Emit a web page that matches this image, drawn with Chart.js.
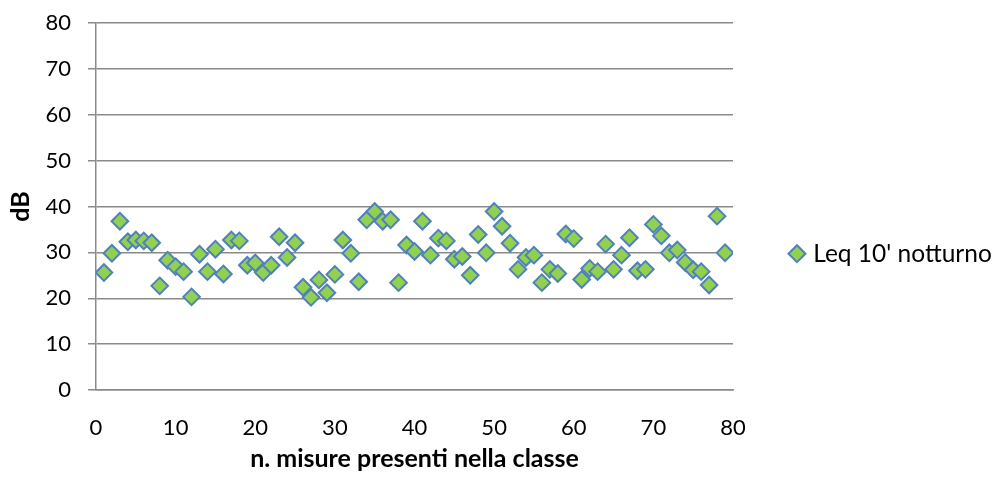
<!DOCTYPE html>
<html>
<head>
<meta charset="utf-8">
<script src="https://cdn.jsdelivr.net/npm/chart.js@4/dist/chart.umd.min.js"></script>
<style>
  html, body { margin: 0; padding: 0; background: #ffffff; }
  #wrap { width: 1003px; height: 482px; position: relative; }
</style>
</head>
<body>
<div id="wrap"><canvas id="c"></canvas></div>
<script>
const seriesName = "Leq 10' notturno";
const xTitle = "n. misure presenti nella classe";
const yTitle = "dB";
const xValues = [1,2,3,4,5,6,7,8,9,10,11,12,13,14,15,16,17,18,19,20,
  21,22,23,24,25,26,27,28,29,30,31,32,33,34,35,36,37,38,39,40,
  41,42,43,44,45,46,47,48,49,50,51,52,53,54,55,56,57,58,59,60,
  61,62,63,64,65,66,67,68,69,70,71,72,73,74,75,76,77,78,79];
const yValues = [25.6,29.8,36.8,32.3,32.7,32.5,32.1,22.7,28.3,26.9,
  25.8,20.3,29.6,25.8,30.7,25.3,32.7,32.5,27.2,27.7,
  25.6,27.2,33.4,28.9,32.1,22.4,20.2,24.0,21.2,25.2,
  32.7,29.8,23.6,37.1,38.9,36.8,37.1,23.4,31.6,30.2,
  36.8,29.4,33.1,32.5,28.5,29.1,25.0,33.9,29.9,38.9,
  35.7,32.0,26.3,28.9,29.4,23.4,26.3,25.4,34.0,33.0,
  24.1,26.5,25.8,31.8,26.3,29.4,33.2,26.0,26.3,36.1,
  33.6,29.9,30.5,27.8,26.2,25.8,22.9,37.9,29.9];
const axisMin = 0, axisMax = 80, axisStep = 10;

const points = xValues.map((x, i) => ({ x: x, y: yValues[i] }));

const FONT = 'Lato, "Open Sans", sans-serif';
const GRID = '#8a8a8a';

const legendFit = {
  id: 'legendFit',
  beforeUpdate(chart) {
    const lg = chart.legend;
    if (lg && !lg.__patched) {
      const orig = lg.fit;
      lg.fit = function () { orig.call(this); this.width = 270; };
      lg.__patched = true;
    }
  }
};

new Chart(document.getElementById('c'), {
  type: 'scatter',
  data: {
    datasets: [{
      label: seriesName,
      data: points,
      pointStyle: 'rectRot',
      pointRadius: 8.3,
      pointHoverRadius: 8.3,
      pointBackgroundColor: '#92D050',
      pointBorderColor: '#4F81BD',
      pointBorderWidth: 2,
      backgroundColor: '#92D050',
      borderColor: '#4F81BD',
      borderWidth: 2
    }]
  },
  options: {
    responsive: true,
    maintainAspectRatio: false,
    animation: false,
    layout: { padding: { top: 23, left: 0, right: 0, bottom: 0 } },
    plugins: {
      tooltip: { enabled: false },
      legend: {
        position: 'right',
        title: { display: true, text: ' ', font: { size: 2 }, padding: 0 },
        labels: {
          usePointStyle: true,
          boxWidth: 8,
          boxHeight: 12,
          padding: 60,
          color: '#000000',
          font: { family: FONT, size: 24.5 }
        }
      }
    },
    scales: {
      x: {
        type: 'linear',
        min: axisMin, max: axisMax,
        afterFit(scale) { scale.height = 92; },
        ticks: { stepSize: axisStep, color: '#000000', padding: 25, font: { family: FONT, size: 22 } },
        grid: { display: false, drawTicks: false },
        border: { display: true, color: GRID, width: 1.5 },
        title: { display: true, text: xTitle, color: '#000000', font: { family: FONT, size: 25, weight: 'bold' }, padding: { top: 0, bottom: 8 } }
      },
      y: {
        type: 'linear',
        min: axisMin, max: axisMax,
        afterFit(scale) { scale.width = 96; scale.paddingTop = 10; scale.paddingBottom = 10; },
        ticks: { stepSize: axisStep, color: '#000000', padding: 17, font: { family: FONT, size: 22 } },
        grid: { display: true, color: GRID, lineWidth: 1.5, drawTicks: true, tickLength: 8, tickColor: GRID },
        border: { display: true, color: GRID, width: 1.5 },
        title: { display: true, text: yTitle, color: '#000000', font: { family: FONT, size: 25, weight: 'bold' }, padding: { top: 6, bottom: 0 } }
      }
    }
  },
  plugins: [legendFit]
});
</script>
</body>
</html>
